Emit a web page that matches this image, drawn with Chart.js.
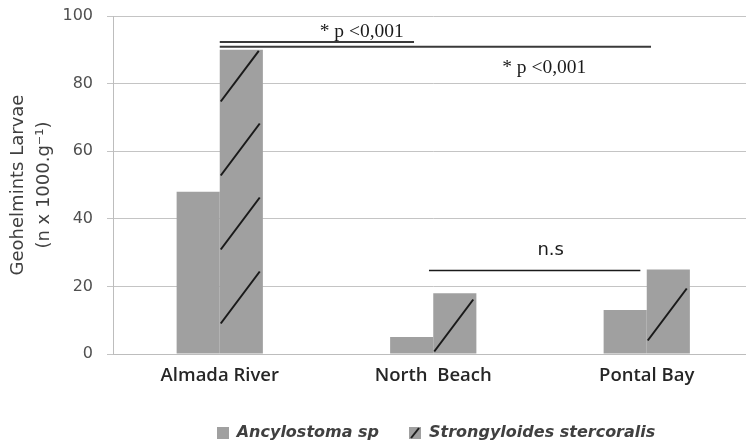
<!DOCTYPE html>
<html>
<head>
<meta charset="utf-8">
<script src="https://cdn.jsdelivr.net/npm/chart.js@4.4.0/dist/chart.umd.min.js"></script>
<style>
  html, body { margin: 0; padding: 0; background: #fff; overflow: hidden; }
  #wrap { width: 872px; height: 443px; }
</style>
</head>
<body>
<div id="wrap"><canvas id="c" width="872" height="443"></canvas></div>
<script>
const sites = ["Almada River", "North  Beach", "Pontal Bay"];
const ancylostoma = [48, 5, 13];
const strongyloides = [90, 18, 25];
const seriesNames = ["Ancylostoma sp", "Strongyloides stercoralis"];

// significance brackets (x in category index units, y in data units)
const bracketFrom = [0, 0, 0.98];
const bracketTo = [0.91, 2.02, 1.97];
const bracketY = [92.3, 90.9, 24.7];
const bracketText = ["* p <0,001", "* p <0,001", "n.s"];
const bracketTextX = [0.665, 1.52, 1.55];
const bracketTextY = [95.2, 84.6, 30.8];

const BAR = "#a0a0a0";
const hatchStart = [30, 2, 13]; // px above the baseline where the first stroke starts

function legendBox(hatched) {
  const c = document.createElement("canvas");
  c.width = 12; c.height = 12;
  const g = c.getContext("2d");
  g.fillStyle = BAR;
  g.fillRect(0, 0, 12, 12);
  if (hatched) {
    g.strokeStyle = "#1a1a1a";
    g.lineWidth = 2;
    g.beginPath(); g.moveTo(2, 11); g.lineTo(10, 1); g.stroke();
  }
  return c;
}
const boxes = [legendBox(false), legendBox(true)];

const hatchPlugin = {
  id: "hatch",
  afterDatasetsDraw(chart) {
    const meta = chart.getDatasetMeta(1);
    const ctx = chart.ctx;
    ctx.save();
    ctx.strokeStyle = "#1a1a1a";
    ctx.lineWidth = 2;
    meta.data.forEach((bar, i) => {
      const { x, y, base, width } = bar.getProps(["x", "y", "base", "width"], true);
      const left = x - width / 2;
      for (let b = base - hatchStart[i]; b - 10 > y; b -= 74) {
        const t = Math.max(b - 52, y + 1);
        const frac = (b - t) / 52;
        ctx.beginPath();
        ctx.moveTo(left + 1, b);
        ctx.lineTo(left + 1 + 39 * frac, t);
        ctx.stroke();
      }
    });
    ctx.restore();
  },
};

const bracketPlugin = {
  id: "brackets",
  afterDraw(chart) {
    const xs = chart.scales.x, ys = chart.scales.y, ctx = chart.ctx;
    ctx.save();
    bracketFrom.forEach((f, i) => {
      const yy = ys.getPixelForValue(bracketY[i]);
      ctx.strokeStyle = i === 2 ? "#1a1a1a" : "#3a3a3a";
      ctx.lineWidth = i === 2 ? 1.5 : 2;
      ctx.beginPath();
      ctx.moveTo(xs.getPixelForValue(f), yy);
      ctx.lineTo(xs.getPixelForValue(bracketTo[i]), yy);
      ctx.stroke();
      ctx.fillStyle = "#1a1a1a";
      ctx.textAlign = "center";
      ctx.textBaseline = "middle";
      ctx.font = i === 2 ? "18px 'DejaVu Sans'" : "19.5px 'Liberation Serif'";
      ctx.fillText(bracketText[i], xs.getPixelForValue(bracketTextX[i]), ys.getPixelForValue(bracketTextY[i]));
    });
    ctx.restore();
  },
};

new Chart(document.getElementById("c"), {
  type: "bar",
  data: {
    labels: sites,
    datasets: [
      { label: seriesNames[0], data: ancylostoma, backgroundColor: BAR },
      { label: seriesNames[1], data: strongyloides, backgroundColor: BAR },
    ],
  },
  options: {
    responsive: false,
    animation: false,
    devicePixelRatio: 1,
    layout: { padding: { top: 16, right: 0, left: 0, bottom: -8 } },
    datasets: { bar: { categoryPercentage: 0.404, barPercentage: 1 } },
    plugins: {
      tooltip: { enabled: false },
      legend: {
        position: "bottom",
        labels: {
          usePointStyle: true,
          boxWidth: 12,
          boxHeight: 12,
          padding: 30,
          color: "#404040",
          font: { family: "'DejaVu Sans'", size: 16, style: "italic", weight: "bold" },
          generateLabels: () =>
            seriesNames.map((name, i) => ({
              text: name,
              fillStyle: BAR,
              strokeStyle: BAR,
              lineWidth: 0,
              pointStyle: boxes[i],
              hidden: false,
              datasetIndex: i,
              fontColor: "#404040",
            })),
        },
      },
    },
    scales: {
      x: {
        grid: { display: false },
        border: { display: true, color: "#bdbdbd", width: 1 },
        ticks: { color: "#262626", padding: 3, font: { family: "'Open Sans'", size: 18.5, weight: "600" } },
        afterFit: (s) => { s.height = 41; },
      },
      y: {
        min: 0,
        max: 100,
        ticks: { stepSize: 20, color: "#505050", padding: 14, font: { family: "'DejaVu Sans'", size: 16 } },
        grid: { color: "#c4c4c4", tickLength: 6, drawTicks: true },
        border: { display: true, color: "#bdbdbd" },
        title: {
          display: true,
          text: ["Geohelmints Larvae", "(n x 1000.g\u207B\u00B9)"],
          color: "#404040",
          font: { family: "'DejaVu Sans'", size: 18, lineHeight: 1.45 },
          padding: { top: 5, bottom: 4 },
        },
        afterFit: (s) => { s.width = 113; s.paddingTop = 0; s.paddingBottom = 0; },
      },
      // empty right-hand box: keeps the plot cut off at the page edge as in the source
      spacer: {
        position: "right",
        grid: { display: false },
        border: { display: false },
        ticks: { display: false },
        afterFit: (s) => { s.width = 118.5; s.paddingTop = 0; s.paddingBottom = 0; },
      },
    },
  },
  plugins: [hatchPlugin, bracketPlugin],
});
</script>
</body>
</html>
